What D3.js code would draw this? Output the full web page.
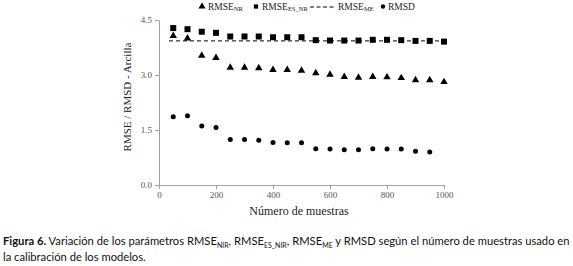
<!DOCTYPE html>
<html><head><meta charset="utf-8">
<script src="https://cdn.jsdelivr.net/npm/d3@7/dist/d3.min.js"></script>
<style>body{margin:0;background:#fff}svg{display:block}</style>
</head><body>
<svg id="c" width="573" height="266"></svg>
<script>
const samples = [50,100,150,200,250,300,350,400,450,500,550,600,650,700,750,800,850,900,950,1000];
const rmseNR  = [4.07,4.00,3.53,3.47,3.20,3.20,3.19,3.14,3.14,3.12,3.05,3.01,2.95,2.93,2.95,2.94,2.92,2.86,2.86,2.81];
const rmseES  = [4.28,4.25,4.18,4.15,4.05,4.05,4.05,4.03,4.03,4.03,3.95,3.94,3.94,3.94,3.96,3.96,3.95,3.93,3.93,3.91];
const rmseME  = [3.93,3.93];
const rmseMEx = [35,1005];
const rmsdX   = [50,100,150,200,250,300,350,400,450,500,550,600,650,700,750,800,850,900,950];
const rmsd    = [1.86,1.89,1.61,1.57,1.24,1.24,1.22,1.16,1.15,1.15,0.99,0.98,0.96,0.96,0.99,0.98,0.98,0.92,0.90];
const xTicks = [0,200,400,600,800,1000];
const yTicks = [0,1.5,3.0,4.5];

const svg = d3.select("#c");
const x = d3.scaleLinear().domain([0,1000]).range([159,444]);
const y = d3.scaleLinear().domain([0,4.5]).range([185,20]);
const serif = "'Liberation Serif','Times New Roman',serif";
const axisCol = "#a0a0a0";

// axes
const xa = svg.append("g").attr("transform","translate(0,185)")
  .call(d3.axisBottom(x).tickValues(xTicks).tickFormat(d3.format("d")).tickSize(4).tickSizeOuter(0));
const ya = svg.append("g").attr("transform","translate(159,0)")
  .call(d3.axisLeft(y).tickValues(yTicks).tickFormat(d3.format(".1f")).tickSize(4).tickSizeOuter(0));
[xa,ya].forEach(g=>{
  g.select(".domain").attr("stroke",axisCol);
  g.selectAll(".tick line").attr("stroke",axisCol);
  g.selectAll(".tick text").attr("fill","#555").style("font-family",serif).style("font-size","9px");
});

// dashed ME line
svg.append("path")
  .datum(rmseMEx.map((d,i)=>[d,rmseME[i]]))
  .attr("d", d3.line().x(d=>x(d[0])).y(d=>y(d[1])))
  .attr("stroke","#000").attr("stroke-width",1).attr("stroke-dasharray","4,3").attr("fill","none");

// squares
svg.append("g").selectAll("path").data(samples).join("path")
  .attr("transform",(d,i)=>`translate(${x(d)},${y(rmseES[i])})`)
  .attr("d", d3.symbol(d3.symbolSquare, 36)).attr("fill","#000");
// triangles
svg.append("g").selectAll("path").data(samples).join("path")
  .attr("transform",(d,i)=>`translate(${x(d)},${y(rmseNR[i])})`)
  .attr("d", d3.symbol(d3.symbolTriangle, 24)).attr("fill","#000");
// circles
svg.append("g").selectAll("circle").data(rmsdX).join("circle")
  .attr("cx",d=>x(d)).attr("cy",(d,i)=>y(rmsd[i])).attr("r",2.5).attr("fill","#000");

// axis titles
svg.append("text").attr("x",299).attr("y",215).attr("text-anchor","middle")
  .style("font-family",serif).style("font-size","12px").attr("fill","#222").text("Número de muestras");
svg.append("text").attr("transform","translate(131,97) rotate(-90)").attr("text-anchor","middle")
  .style("font-family",serif).style("font-size","11px").attr("fill","#222").text("RMSE / RMSD - Arcilla");

// legend
const leg = svg.append("g").style("font-family",serif).style("font-size","9.5px").attr("fill","#222");
function legText(xp, main, sub){
  const t = leg.append("text").attr("x",xp).attr("y",9.5);
  t.append("tspan").text(main);
  if(sub) t.append("tspan").attr("dy",1.5).style("font-size","6.5px").text(sub);
}
leg.append("path").attr("transform","translate(202,6.5)").attr("d",d3.symbol(d3.symbolTriangle,22)).attr("fill","#000");
legText(208,"RMSE","NR");
leg.append("path").attr("transform","translate(256,6.5)").attr("d",d3.symbol(d3.symbolSquare,18)).attr("fill","#000");
legText(262,"RMSE","ES_NR");
leg.append("line").attr("x1",310).attr("x2",336).attr("y1",7).attr("y2",7).attr("stroke","#000").attr("stroke-dasharray","4,2.5");
legText(338,"RMSE","ME");
leg.append("circle").attr("cx",383).attr("cy",6.5).attr("r",2.2).attr("fill","#000");
legText(388,"RMSD","");

// caption
const cap = svg.append("g").style("font-family","Lato, 'Open Sans', sans-serif").attr("fill","#111");
const l1 = cap.append("text").attr("x",3).attr("y",245).style("font-size","12px");
l1.append("tspan").style("font-weight","bold").text("Figura 6.");
l1.append("tspan").text(" Variación de los parámetros RMSE");
l1.append("tspan").attr("dy",2.5).style("font-size","7px").text("NIR");
l1.append("tspan").attr("dy",-2.5).text(", RMSE");
l1.append("tspan").attr("dy",2.5).style("font-size","7px").text("ES_NIR");
l1.append("tspan").attr("dy",-2.5).text(", RMSE");
l1.append("tspan").attr("dy",2.5).style("font-size","7px").text("ME");
l1.append("tspan").attr("dy",-2.5).text(" y RMSD según el número de muestras usado en");
const w = l1.node().getComputedTextLength();
const fs = 12*564/w;
l1.style("font-size",fs+"px");
cap.append("text").attr("x",3).attr("y",261).style("font-size",fs+"px").text("la calibración de los modelos.");
</script>
</body></html>
